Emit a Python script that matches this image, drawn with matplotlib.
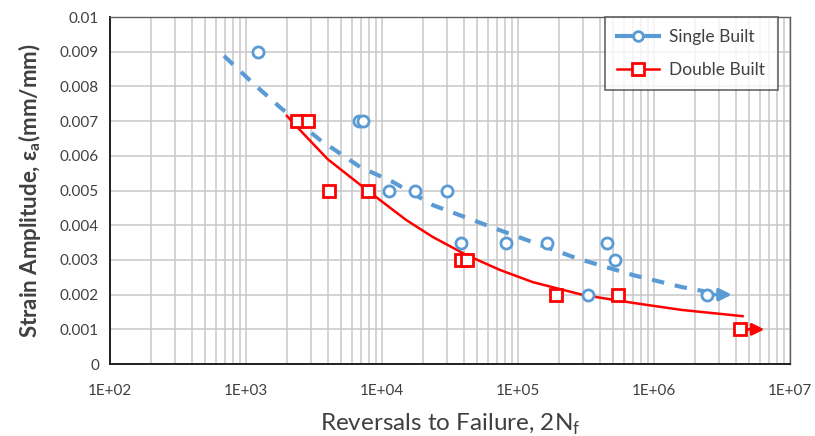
import math
import matplotlib.pyplot as plt
from matplotlib.ticker import FixedLocator, FuncFormatter, LogLocator, NullFormatter

plt.rcParams['font.family'] = ['Lato', 'DejaVu Sans']

# Test data
single_n = [1225, 6800, 7300, 11200, 17400, 30000, 38000, 82000, 163000, 450000, 515000, 330000, 2450000]
single_e = [0.009, 0.007, 0.007, 0.005, 0.005, 0.005, 0.0035, 0.0035, 0.0035, 0.0035, 0.003, 0.002, 0.002]
double_n = [2370, 2870, 4100, 7900, 38000, 42000, 190000, 550000, 4300000]
double_e = [0.007, 0.007, 0.005, 0.005, 0.003, 0.003, 0.002, 0.002, 0.001]

# Trend lines, points
single_fit_n = [689, 1164, 1780, 3500, 6900, 12000, 23700, 70000, 270000, 710000, 1600000, 3300000]
single_fit_e = [0.00888, 0.00804, 0.0074, 0.00646, 0.00568, 0.00525, 0.00458, 0.00389, 0.00305, 0.00256, 0.00222, 0.00199]
double_fit_n = [2000, 2500, 4000, 7900, 15100, 23700, 42000, 74000, 129000, 302000, 710000, 1600000, 4500000]
double_fit_e = [0.00715, 0.00674, 0.0059, 0.00499, 0.00415, 0.00366, 0.00314, 0.00271, 0.00236, 0.00199, 0.00176, 0.00156, 0.00138]

# Run-outs: start N, strain, arrow tip N
single_runout = (2450000, 0.002, 3750000)
double_runout = (4300000, 0.001, 6500000)

blue = '#5B9BD5'
red = '#FF0000'

fig = plt.figure(figsize=(8.15, 4.36), dpi=100)
ax = fig.add_axes([0.135, 0.165, 0.834, 0.796])

ax.set_xscale('log')
ax.set_xlim(1e2, 1e7)
ax.set_ylim(0, 0.01)

# grid and ticks
ax.xaxis.set_major_locator(LogLocator(base=10, numticks=10))
ax.xaxis.set_minor_locator(LogLocator(base=10, subs=range(2, 10), numticks=50))
ax.xaxis.set_minor_formatter(NullFormatter())
ax.xaxis.set_major_formatter(FuncFormatter(lambda v, p: '1E+%02d' % round(math.log10(v))))
ax.yaxis.set_major_locator(FixedLocator([i / 1000 for i in range(11)]))
ax.yaxis.set_major_formatter(FuncFormatter(lambda v, p: '0' if v == 0 else ('%.3f' % v).rstrip('0')))
ax.grid(True, which='both', axis='x', color='#C8C8C8', lw=1.1)
ax.grid(True, which='major', axis='y', color='#C8C8C8', lw=1.1)
ax.set_axisbelow(True)
ax.tick_params(which='both', length=0, labelsize=11, colors='#404040', pad=8)
ax.tick_params(axis='x', pad=14)

for s in ['left', 'bottom']:
    ax.spines[s].set_color('#202020')
    ax.spines[s].set_linewidth(1.4)
for s in ['top', 'right']:
    ax.spines[s].set_color('#606060')
    ax.spines[s].set_linewidth(1.0)

# trend lines
ax.plot(single_fit_n, single_fit_e, color=blue, lw=3, ls=(0, (3, 2.6)), zorder=2)
ax.plot(double_fit_n, double_fit_e, color=red, lw=1.8, zorder=2)

# runout arrows
ax.annotate('', xy=(single_runout[2], single_runout[1]), xytext=single_runout[:2],
            arrowprops=dict(arrowstyle='-|>', color=blue, lw=2.5, mutation_scale=18, shrinkA=0, shrinkB=0))
ax.annotate('', xy=(double_runout[2], double_runout[1]), xytext=double_runout[:2],
            arrowprops=dict(arrowstyle='-|>', color=red, lw=2, mutation_scale=18, shrinkA=0, shrinkB=0))

# data points
ax.plot(single_n, single_e, ls='none', marker='o', ms=8, mfc='white', mec=blue, mew=2, zorder=3)
ax.plot(double_n, double_e, ls='none', marker='s', ms=9, mfc='white', mec=red, mew=2, zorder=3)

# legend
h1, = ax.plot([], [], color=blue, lw=3, marker='o', ms=7, mfc='white', mec=blue, mew=2)
h2, = ax.plot([], [], color=red, lw=1.8, marker='s', ms=8, mfc='white', mec=red, mew=2)
leg = ax.legend([h1, h2], ['Single Built', 'Double Built'], loc='upper right',
                bbox_to_anchor=(0.982, 1.0), fontsize=12.5, frameon=True, fancybox=False,
                handlelength=2.4, handletextpad=0.6, borderpad=0.7, labelspacing=0.95,
                borderaxespad=0.0)
leg.get_frame().set_edgecolor('#404040')
leg.get_frame().set_linewidth(1.2)
for t in leg.get_texts():
    t.set_color('#404040')

ax.set_xlabel('Reversals to Failure, 2N$_\\mathregular{f}$', fontsize=17.5, color='#404040', labelpad=10)
ax.set_ylabel('Strain Amplitude, \u03b5$_\\mathregular{a}$(mm/mm)', fontsize=16, color='#404040',
              fontweight='bold', labelpad=12)

fig.savefig('out.png', dpi=100)
